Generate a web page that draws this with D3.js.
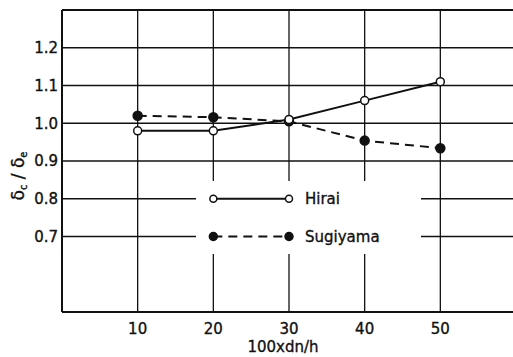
<!DOCTYPE html>
<html>
<head>
<meta charset="utf-8">
<script src="https://d3js.org/d3.v7.min.js"></script>
<style>
  body { margin: 0; background: #fff; }
  text { font-family: 'DejaVu Sans', sans-serif; fill: #111; stroke: #111; stroke-width: 0.35px; }
</style>
</head>
<body>
<svg width="513" height="357"></svg>
<script>
// values
var xVals = [10, 20, 30, 40, 50];
var hirai = [0.98, 0.98, 1.01, 1.06, 1.11];
var sugiyama = [1.02, 1.016, 1.005, 0.954, 0.934];
var yTicks = [0.7, 0.8, 0.9, 1.0, 1.1, 1.2];
var gridY = [0.7, 0.8, 0.9, 1.0, 1.1, 1.2, 1.3];
var legendNames = ["Hirai", "Sugiyama"];

var svg = d3.select("svg");
var x = d3.scaleLinear().domain([0, 60]).range([62, 516]);
var y = d3.scaleLinear().domain([0.5, 1.3]).range([312, 10]);

var g = svg.append("g");

// grid
g.selectAll("line.h").data(gridY).enter().append("line")
  .attr("x1", x(0)).attr("x2", 513)
  .attr("y1", d => y(d)).attr("y2", d => y(d))
  .attr("stroke", "#111").attr("stroke-width", d => d === 1.3 ? 2 : 1.3);
g.selectAll("line.v").data(xVals).enter().append("line")
  .attr("x1", d => x(d)).attr("x2", d => x(d))
  .attr("y1", y(1.3)).attr("y2", y(0.5))
  .attr("stroke", "#111").attr("stroke-width", 1.3);

// legend blanking box
g.append("rect").attr("x", 196).attr("y", 181).attr("width", 225).attr("height", 73)
  .attr("fill", "#fff");

// axes lines
g.append("line").attr("x1", x(0)).attr("x2", x(0)).attr("y1", y(1.3)).attr("y2", y(0.5))
  .attr("stroke", "#111").attr("stroke-width", 2);
g.append("line").attr("x1", x(0)).attr("x2", 513).attr("y1", y(0.5)).attr("y2", y(0.5))
  .attr("stroke", "#111").attr("stroke-width", 2);

// tick labels
g.selectAll("text.yt").data(yTicks).enter().append("text")
  .attr("x", 58).attr("y", d => y(d)).attr("dy", "0.36em")
  .attr("text-anchor", "end").attr("font-size", 15).text(d => d.toFixed(1));
g.selectAll("text.xt").data(xVals).enter().append("text")
  .attr("x", d => x(d)).attr("y", 334)
  .attr("text-anchor", "middle").attr("font-size", 15).text(d => d);

// axis titles
g.append("text").attr("x", 283).attr("y", 352).attr("text-anchor", "middle")
  .attr("font-size", 15).text("100xdn/h");
var yl = g.append("text").attr("transform", "translate(24,176) rotate(-90)")
  .attr("text-anchor", "middle").attr("font-size", 17);
yl.append("tspan").text("δ");
yl.append("tspan").attr("font-size", 10).attr("dy", 3).text("c");
yl.append("tspan").attr("dy", -3).text(" / δ");
yl.append("tspan").attr("font-size", 10).attr("dy", 3).text("e");

// series
function draw(vals, dash, filled) {
  var pts = xVals.map((d, i) => [d, vals[i]]);
  g.append("path").datum(pts)
    .attr("d", d3.line().x(d => x(d[0])).y(d => y(d[1])))
    .attr("fill", "none").attr("stroke", "#111").attr("stroke-width", 2)
    .attr("stroke-dasharray", dash);
  g.selectAll(null).data(pts).enter().append("circle")
    .attr("cx", d => x(d[0])).attr("cy", d => y(d[1])).attr("r", filled ? 4.5 : 4)
    .attr("fill", filled ? "#111" : "#fff").attr("stroke", "#111").attr("stroke-width", 1.5);
}
draw(sugiyama, "9,6", true);
draw(hirai, null, false);

// legend
var legY = [0.8, 0.7];
legendNames.forEach(function (name, i) {
  var ly = y(legY[i]);
  var filled = i === 1;
  g.append("line").attr("x1", x(20)).attr("x2", x(30)).attr("y1", ly).attr("y2", ly)
    .attr("stroke", "#111").attr("stroke-width", 2)
    .attr("stroke-dasharray", filled ? "9,6" : null);
  [20, 30].forEach(function (xv) {
    g.append("circle").attr("cx", x(xv)).attr("cy", ly).attr("r", filled ? 4 : 3.5)
      .attr("fill", filled ? "#111" : "#fff").attr("stroke", "#111").attr("stroke-width", 1.5);
  });
  g.append("text").attr("x", 305).attr("y", ly).attr("dy", "0.36em")
    .attr("font-size", 15).text(name);
});
</script>
</body>
</html>
